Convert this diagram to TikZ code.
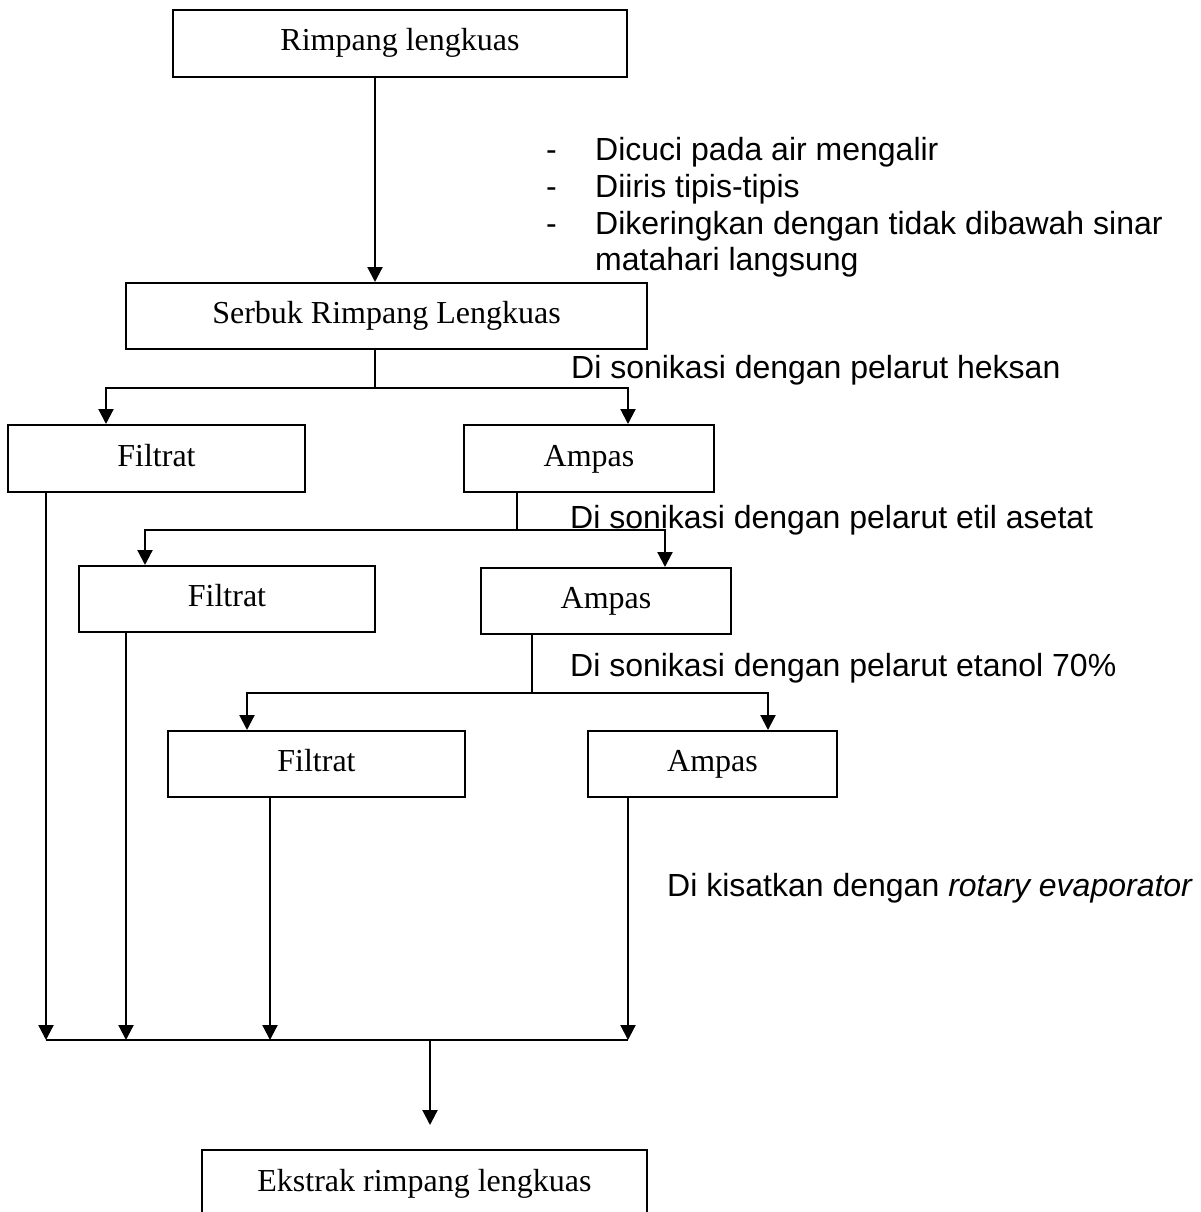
\documentclass[tikz,border=0pt]{standalone}
\usepackage{fontspec}
\setmainfont{Liberation Serif}
\newfontfamily\arialfont{Liberation Sans}
\usetikzlibrary{arrows.meta}

\tikzset{
	box/.style={draw,line width=2pt,inner sep=0pt,text height=22pt,text depth=7pt,font=\fontsize{32}{37}\selectfont},
	arr/.style={line width=2.2pt,-{Triangle[width=15pt,length=15pt]}},
	thinline/.style={line width=1.5pt},
	lbl/.style={inner sep=0pt,anchor=base west,font=\arialfont\fontsize{32}{37}\selectfont}
}

\begin{document}
\begin{tikzpicture}[x=1pt,y=-1pt]
		\useasboundingbox (0,0) rectangle (1201,1212);
		\clip (0,0) rectangle (1201,1212);

		%boxes
		\node[box,minimum width=454,minimum height=67] (rimpang) at (400,43.5) {Rimpang lengkuas};
		\node[box,minimum width=521,minimum height=66] (serbuk) at (386.5,316) {Serbuk Rimpang Lengkuas};

		\node[box,minimum width=297,minimum height=67] (fil1) at (156.5,458.5) {Filtrat};
		\node[box,minimum width=250,minimum height=67] (amp1) at (589,458.5) {Ampas};

		\node[box,minimum width=296,minimum height=66] (fil2) at (227,599) {Filtrat};
		\node[box,minimum width=250,minimum height=66] (amp2) at (606,601) {Ampas};

		\node[box,minimum width=297,minimum height=66] (fil3) at (316.5,764) {Filtrat};
		\node[box,minimum width=249,minimum height=66] (amp3) at (712.5,764) {Ampas};

		\node[box,minimum width=445,minimum height=67] (ekstrak) at (424.5,1183.5) {Ekstrak rimpang lengkuas};

		%junctions
		\coordinate (s1) at (375,388);
		\coordinate (s1l) at (106,388);
		\coordinate (s1r) at (628,388);
		\coordinate (s2) at (517,530);
		\coordinate (s2l) at (145,530);
		\coordinate (s2r) at (665,530);
		\coordinate (s3) at (532,693);
		\coordinate (s3l) at (247,693);
		\coordinate (s3r) at (768,693);
		\coordinate (m0) at (430,1040);
		\coordinate (m1) at (46,1040);
		\coordinate (m2) at (126,1040);
		\coordinate (m3) at (270,1040);
		\coordinate (m4) at (628,1040);

		%splits
		\draw[arr] (rimpang.south -| s1) -- (serbuk.north -| s1);
		\draw[thinline] (serbuk.south -| s1) -- (s1);
		\draw[arr] (s1) -- (s1l) -- (fil1.north -| s1l);
		\draw[arr] (s1) -- (s1r) -- (amp1.north -| s1r);

		\draw[thinline] (amp1.south -| s2) -- (s2);
		\draw[arr] (s2) -- (s2l) -- (fil2.north -| s2l);
		\draw[arr] (s2) -- (s2r) -- (amp2.north -| s2r);

		\draw[thinline] (amp2.south -| s3) -- (s3);
		\draw[arr] (s3) -- (s3l) -- (fil3.north -| s3l);
		\draw[arr] (s3) -- (s3r) -- (amp3.north -| s3r);

		%collecting line
		\foreach \b/\m in {fil1/m1,fil2/m2,fil3/m3,amp3/m4}
			\draw[arr] (\b.south -| \m) -- (\m);
		\draw[line width=2pt] (m1) -- (m4);
		\draw[arr,shorten >=24pt] (m0) -- (ekstrak.north -| m0);

		%labels
		\node[lbl] (cuci) at (546,160) {\begin{tabular}[t]{@{}l@{}l@{}}
			\makebox[49pt][l]{-} & Dicuci pada air mengalir\\
			\makebox[49pt][l]{-} & Diiris tipis-tipis\\
			\makebox[49pt][l]{-} & Dikeringkan dengan tidak dibawah sinar\\
			& matahari langsung
		\end{tabular}};
		\node[lbl] (heksan) at (571,378) {Di sonikasi dengan pelarut heksan};
		\node[lbl] (etil) at (570,528) {Di sonikasi dengan pelarut etil asetat};
		\node[lbl] (etanol) at (570,676) {Di sonikasi dengan pelarut etanol 70\%};
		\node[lbl] (kisat) at (667,896) {Di kisatkan dengan \textit{rotary evaporator}};
	\end{tikzpicture}
\end{document}
